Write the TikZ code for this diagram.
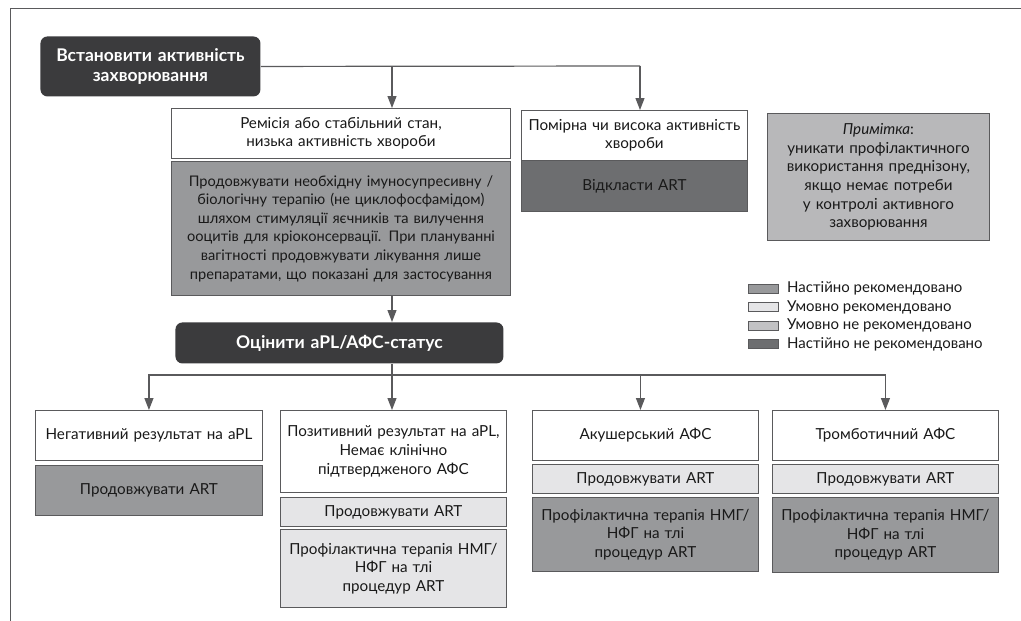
\documentclass[tikz,border=0pt]{standalone}
\usepackage{fontspec}
\setmainfont{Lato}
\usetikzlibrary{arrows.meta}
\definecolor{linegray}{HTML}{5A5A5C}
\definecolor{headfill}{HTML}{3B3B3D}
\definecolor{strongfill}{HTML}{98999B}
\definecolor{condfill}{HTML}{E5E5E7}
\definecolor{againstfill}{HTML}{6D6E70}
\definecolor{notefill}{HTML}{B8B8BA}
\definecolor{condnotfill}{HTML}{C2C2C4}
\tikzset{
  box/.style={draw=linegray,line width=0.9pt,anchor=north west,inner sep=0pt,align=center,
    text=black!90,font=\fontsize{15.2}{18.6}\selectfont},
  whitebox/.style={box,fill=white},
  strongbox/.style={box,fill=strongfill},
  condbox/.style={box,fill=condfill},
  againstbox/.style={box,fill=againstfill},
  notebox/.style={box,fill=notefill},
  headbox/.style={box,draw=none,fill=headfill,rounded corners=7pt,text=white,
    font=\fontsize{17.5}{20}\selectfont\bfseries},
  line/.style={draw=linegray,line width=1.2pt},
  arrow/.style={line,-{Triangle[length=12pt,width=9pt]}},
  legkey/.style={draw=linegray,line width=0.8pt},
  legtext/.style={anchor=west,inner sep=0pt,text=black!90,font=\fontsize{15}{18}\selectfont}
}
\begin{document}
\begin{tikzpicture}[x=1pt,y=-1pt]
\useasboundingbox (0,0) rectangle (1021,621);
% frame
\draw[line,line width=1pt] (10,621) -- (10,8) -- (1021,8);
% disease activity
\node[headbox,text width=220,minimum height=60] (activity) at (40,36) {Встановити активність\\захворювання};
\node[whitebox,text width=339,minimum height=50] (remission) at (171,108) {Ремісія або стабільний стан,\\низька активність хвороби};
\node[strongbox,text width=339,minimum height=134,font=\fontsize{14.6}{18.6}\selectfont] (therapy) at (171,161) {Продовжувати необхідну імуносупресивну /\\біологічну терапію (не циклофосфамідом)\\шляхом стимуляції яєчників та вилучення\\ооцитів для кріоконсервації. При плануванні\\вагітності продовжувати лікування лише\\препаратами, що показані для застосування};
\node[whitebox,text width=226,minimum height=50] (moderate) at (521,110) {Помірна чи висока активність\\хвороби};
\node[againstbox,text width=226,minimum height=51] (postpone) at (521,160) {Відкласти ART};
\node[notebox,text width=222,minimum height=127] (note) at (767,113) {\textit{Примітка}:\\уникати профілактичного\\використання преднізону,\\якщо немає потреби\\у контролі активного\\захворювання};
% legend
\draw[legkey,fill=strongfill] (748,284) rectangle (778,293);
\node[legtext] (leg1) at (787,288.5) {Настійно рекомендовано};
\draw[legkey,fill=condfill] (748,302.5) rectangle (778,311.5);
\node[legtext] (leg2) at (787,307) {Умовно рекомендовано};
\draw[legkey,fill=condnotfill] (748,321) rectangle (778,330);
\node[legtext] (leg3) at (787,325.5) {Умовно не рекомендовано};
\draw[legkey,fill=againstfill] (748,339.5) rectangle (778,348.5);
\node[legtext] (leg4) at (787,344) {Настійно не рекомендовано};
% aPL status
\node[headbox,text width=328,minimum height=41] (assess) at (175,322) {Оцінити aPL/АФС-статус};
\node[whitebox,text width=227,minimum height=50] (neg) at (35,410) {Негативний результат на aPL};
\node[strongbox,text width=227,minimum height=50] (negart) at (35,465) {Продовжувати ART};
\node[whitebox,text width=226,minimum height=82] (pos) at (280,410) {Позитивний результат на aPL,\\Немає клінічно\\підтвердженого АФС};
\node[condbox,text width=226,minimum height=29] (posart) at (280,497) {Продовжувати ART};
\node[condbox,text width=226,minimum height=78] (posprof) at (280,529) {Профілактична терапія НМГ/\\НФГ на тлі\\процедур ART};
\node[whitebox,text width=226,minimum height=50] (obst) at (532,410) {Акушерський АФС};
\node[condbox,text width=226,minimum height=29] (obstart) at (532,464) {Продовжувати ART};
\node[strongbox,text width=226,minimum height=74] (obstprof) at (532,497) {Профілактична терапія НМГ/\\НФГ на тлі\\процедур ART};
\node[whitebox,text width=226,minimum height=50] (thromb) at (772,410) {Тромботичний АФС};
\node[condbox,text width=226,minimum height=29] (thrombart) at (772,464) {Продовжувати ART};
\node[strongbox,text width=226,minimum height=75] (thrombprof) at (772,497) {Профілактична терапія НМГ/\\НФГ на тлі\\процедур ART};
% connectors
\coordinate (split) at (392,66);
\coordinate (turn) at (640,66);
\coordinate (bus) at (392,375);
\draw[line] (activity.east) -- (turn);
\draw[arrow] (split) -- (split |- remission.north);
\draw[arrow] (turn) -- (turn |- moderate.north);
\draw[arrow] (therapy.south -| split) -- (split |- assess.north);
\draw[line] (assess.south -| bus) -- (bus);
\draw[arrow] (bus) -| (neg.north);
\draw[arrow] (bus) -- (bus |- pos.north);
\draw[arrow] (bus) -| ([xshift=-5pt]obst.north);
\draw[arrow] (bus) -| (thromb.north);
\end{tikzpicture}
\end{document}
